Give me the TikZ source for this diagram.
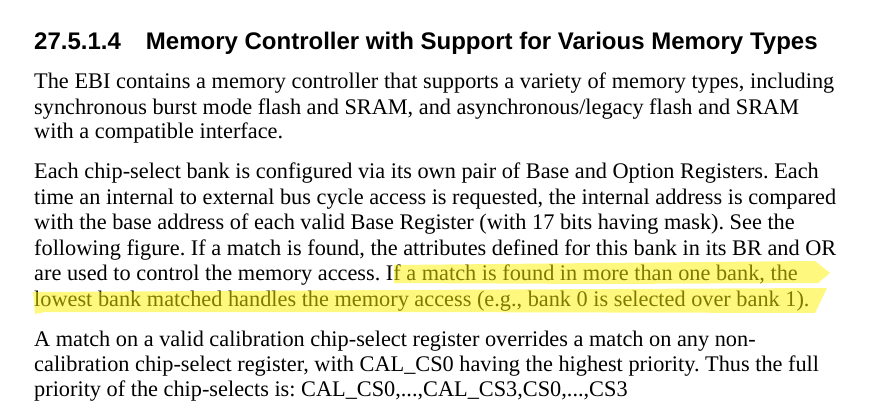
\documentclass[tikz,border=0pt]{standalone}
\usepackage{fontspec}
\setmainfont{Liberation Serif}
\newfontfamily\headfont{Liberation Sans}
\usetikzlibrary{positioning}
\frenchspacing

\begin{document}
\begin{tikzpicture}[
  x=1pt, y=-1pt,
    every node/.style={inner sep=0pt, anchor=base west},
    heading/.style={font=\headfont\bfseries\fontsize{24}{28}\selectfont},
    bodyline/.style={font=\fontsize{22.3}{25}\selectfont, text=black},
    marker/.style={fill=yellow, fill opacity=0.5, draw=none}
]
\useasboundingbox[fill=white] (0,0) rectangle (896,417);

% Heading
\node (title) [heading] at (34,50) {27.5.1.4\hspace{25pt}Memory Controller with Support for Various Memory Types};

% Paragraph 1: memory types
\node (intro1) [bodyline] at (34,89) {\makebox[800pt][s]{The EBI contains a memory controller that supports a variety of memory types, including}};
\node (intro2) [bodyline] at (34,114) {synchronous burst mode flash and SRAM, and asynchronous/legacy flash and SRAM};
\node (intro3) [bodyline] at (34,139) {with a compatible interface.};

% Paragraph 2: bank matching
\node (bank1) [bodyline] at (34,178) {Each chip-select bank is configured via its own pair of Base and Option Registers. Each};
\node (bank2) [bodyline] at (34,204) {time an internal to external bus cycle access is requested, the internal address is compared};
\node (bank3) [bodyline] at (34,229) {with the base address of each valid Base Register (with 17 bits having mask). See the};
\node (bank4) [bodyline] at (34,255) {following figure. If a match is found, the attributes defined for this bank in its BR and OR};
\node (bank5) [bodyline] at (34,280) {are used to control the memory access. If a match is found in more than one bank, the};
\node (bank6) [bodyline] at (34,306) {lowest bank matched handles the memory access (e.g., bank 0 is selected over bank 1).};

% Paragraph 3: calibration priority
\node (cal1) [bodyline] at (34,346) {A match on a valid calibration chip-select register overrides a match on any non-};
\node (cal2) [bodyline] at (34,371) {calibration chip-select register, with CAL\_CS0 having the highest priority. Thus the full};
\node (cal3) [bodyline] at (34,396) {priority of the chip-selects is: CAL\_CS0,...,CAL\_CS3,CS0,...,CS3};

% Highlighter strokes
\fill[marker] (394,265) -- (600,263) -- (815,261) -- (830,273) -- (818,283) -- (600,284) -- (394,283) -- cycle;
\fill[marker] (33,292) -- (400,290) -- (827,288) -- (815,313) -- (400,312) -- (45,312) -- (35,314) -- cycle;

\end{tikzpicture}
\end{document}
